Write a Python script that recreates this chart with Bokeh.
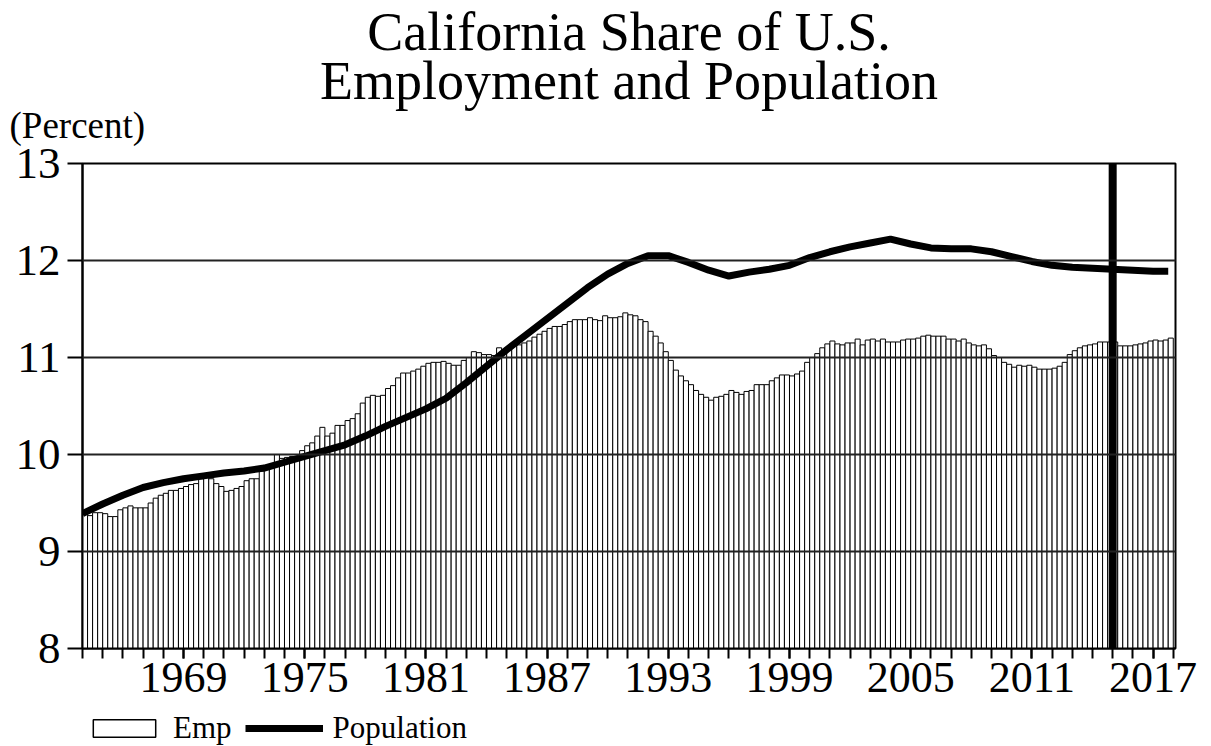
import numpy as np
from bokeh.plotting import figure
from bokeh.layouts import column
from bokeh.models import (ColumnDataSource, FixedTicker, Legend, LegendItem,
                          Title, Span, Range1d)
from bokeh.embed import file_html
from bokeh.resources import INLINE

# ---------------- data ----------------
first_year = 1964
# California share of U.S. employment, quarterly 1964Q1 .. 2017Q4 (percent)
emp_share = [
    9.39, 9.37, 9.40, 9.40,    # 1964
    9.39, 9.36, 9.36, 9.43,    # 1965
    9.45, 9.47, 9.45, 9.45,    # 1966
    9.45, 9.50, 9.55, 9.58,    # 1967
    9.60, 9.63, 9.63, 9.65,    # 1968
    9.67, 9.69, 9.70, 9.75,    # 1969
    9.77, 9.75, 9.70, 9.67,    # 1970
    9.62, 9.63, 9.65, 9.67,    # 1971
    9.73, 9.75, 9.75, 9.83,    # 1972
    9.85, 9.87, 10.00, 9.96,   # 1973
    9.97, 9.98, 9.98, 10.04,   # 1974
    10.09, 10.12, 10.19, 10.28,  # 1975
    10.19, 10.22, 10.30, 10.30,  # 1976
    10.35, 10.37, 10.42, 10.53,  # 1977
    10.59, 10.61, 10.60, 10.61,  # 1978
    10.68, 10.71, 10.79, 10.84,  # 1979
    10.84, 10.86, 10.88, 10.91,  # 1980
    10.94, 10.95, 10.95, 10.96,  # 1981
    10.94, 10.92, 10.92, 10.97,  # 1982
    11.00, 11.06, 11.05, 11.03,  # 1983
    11.03, 11.02, 11.10, 11.08,  # 1984
    11.08, 11.12, 11.13, 11.15,  # 1985
    11.17, 11.21, 11.24, 11.27,  # 1986
    11.30, 11.32, 11.32, 11.34,  # 1987
    11.37, 11.39, 11.39, 11.39,  # 1988
    11.41, 11.39, 11.38, 11.43,  # 1989
    11.41, 11.41, 11.42, 11.46,  # 1990
    11.44, 11.43, 11.39, 11.37,  # 1991
    11.27, 11.22, 11.15, 11.06,  # 1992
    10.97, 10.87, 10.81, 10.76,  # 1993
    10.72, 10.66, 10.62, 10.59,  # 1994
    10.56, 10.59, 10.60, 10.62,  # 1995
    10.66, 10.64, 10.62, 10.65,  # 1996
    10.66, 10.72, 10.72, 10.72,  # 1997
    10.76, 10.79, 10.82, 10.82,  # 1998
    10.81, 10.83, 10.86, 10.95,  # 1999
    11.00, 11.04, 11.10, 11.14,  # 2000
    11.17, 11.14, 11.13, 11.15,  # 2001
    11.15, 11.19, 11.13, 11.18,  # 2002
    11.19, 11.17, 11.19, 11.16,  # 2003
    11.16, 11.16, 11.18, 11.19,  # 2004
    11.19, 11.20, 11.22, 11.23,  # 2005
    11.22, 11.22, 11.22, 11.19,  # 2006
    11.19, 11.17, 11.19, 11.15,  # 2007
    11.13, 11.12, 11.13, 11.09,  # 2008
    11.02, 11.00, 10.95, 10.93,  # 2009
    10.90, 10.92, 10.91, 10.92,  # 2010
    10.90, 10.88, 10.88, 10.88,  # 2011
    10.89, 10.91, 10.95, 11.03,  # 2012
    11.07, 11.10, 11.12, 11.13,  # 2013
    11.14, 11.16, 11.16, 11.16,  # 2014
    11.16, 11.12, 11.12, 11.12,  # 2015
    11.13, 11.14, 11.15, 11.17,  # 2016
    11.18, 11.17, 11.18, 11.20,  # 2017
]

# California share of U.S. population (percent)
pop_dates = list(range(1964, 2018)) + [2017.75]
pop_share = [
    9.39, 9.49, 9.58, 9.66, 9.71, 9.75, 9.78, 9.81, 9.83, 9.86,        # 1964-73
    9.92, 9.98, 10.04, 10.10, 10.19, 10.29, 10.38, 10.47, 10.58, 10.74,  # 1974-83
    10.91, 11.08, 11.24, 11.40, 11.56, 11.72, 11.86, 11.97, 12.05, 12.05,  # 1984-93
    11.98, 11.90, 11.84, 11.88, 11.91, 11.95, 12.03, 12.09, 12.14, 12.18,  # 1994-03
    12.22, 12.17, 12.13, 12.12, 12.12, 12.09, 12.04, 11.99, 11.95, 11.93,  # 2004-13
    11.92, 11.91, 11.90, 11.89, 11.89,                                    # 2014-17.75
]

forecast_start = 2015.0
y_ticks = [8, 9, 10, 11, 12, 13]
x_label_years = [1969, 1975, 1981, 1987, 1993, 1999, 2005, 2011, 2017]
year_ticks = list(range(1964, 2019))

title_lines = ["California Share of U.S.", "Employment and Population"]
unit_label = "(Percent)"
legend_labels = ["Emp", "Population"]

# ---------------- layout constants ----------------
FONT = "Liberation Serif"
W = 1205
MAIN_H = 711
LEG_H = 35
X_RANGE = (1964, 2018.11)

# ---------------- main chart ----------------
n = len(emp_share)
quarter_x = first_year + np.arange(n) * 0.25 + 0.125
emp_src = ColumnDataSource(dict(x=quarter_x, top=emp_share))
pop_src = ColumnDataSource(dict(x=pop_dates, y=pop_share))

p = figure(width=W, height=MAIN_H,
           x_range=Range1d(*X_RANGE), y_range=Range1d(8, 13),
           output_backend="svg", toolbar_location=None,
           min_border_left=82, min_border_right=W - 1175,
           min_border_top=162, min_border_bottom=63)
p.background_fill_color = "white"
p.border_fill_color = "white"
p.outline_line_color = "black"
p.outline_line_width = 2

bars = p.vbar(x="x", top="top", bottom=0, width=0.25, source=emp_src,
              fill_color="white", line_color="black", line_width=1)
pop_line = p.line(x="x", y="y", source=pop_src, line_color="black",
                  line_width=7)
p.add_layout(Span(location=forecast_start, dimension="height",
                  line_color="black", line_width=8))

p.xgrid.visible = False
p.ygrid.ticker = FixedTicker(ticks=y_ticks)
p.ygrid.grid_line_color = "#222222"
p.ygrid.grid_line_width = 2
p.ygrid.level = "overlay"

p.yaxis.ticker = FixedTicker(ticks=y_ticks)
p.yaxis.major_tick_out = 15
p.yaxis.major_tick_in = 0
p.yaxis.minor_tick_out = 0
p.yaxis.minor_tick_in = 0
p.yaxis.major_tick_line_width = 2
p.yaxis.axis_line_width = 2
p.yaxis.major_label_text_font = FONT
p.yaxis.major_label_text_font_size = "45px"
p.yaxis.major_label_text_color = "black"
p.yaxis.major_label_standoff = 7

p.xaxis.ticker = FixedTicker(ticks=x_label_years, minor_ticks=year_ticks)
p.xaxis.major_tick_out = 10
p.xaxis.major_tick_in = 0
p.xaxis.minor_tick_out = 10
p.xaxis.minor_tick_in = 0
p.xaxis.major_tick_line_width = 2
p.xaxis.minor_tick_line_width = 2
p.xaxis.axis_line_width = 2
p.xaxis.major_label_text_font = FONT
p.xaxis.major_label_text_font_size = "44px"
p.xaxis.major_label_text_color = "black"
p.xaxis.major_label_standoff = 4

# titles: first added = closest to the frame (a thin spacer first)
p.add_layout(Title(text=" ", standoff=1.9, text_font=FONT,
                   text_font_size="10px"), "above")
p.add_layout(Title(text=unit_label, align="left", offset=-73, standoff=6,
                   text_font=FONT, text_font_size="37px",
                   text_font_style="normal", text_color="black"), "above")
p.add_layout(Title(text=title_lines[1], align="center", standoff=-23.4,
                   text_font=FONT, text_font_size="54px",
                   text_font_style="normal", text_color="black"), "above")
p.add_layout(Title(text=title_lines[0], align="center", standoff=-2.2,
                   text_font=FONT, text_font_size="54px",
                   text_font_style="normal", text_color="black"), "above")

# ---------------- legend strip (key glyphs only, nothing plotted) ----------------
leg = figure(width=W, height=LEG_H, x_range=Range1d(*X_RANGE),
             y_range=Range1d(0, 1),
             output_backend="svg", toolbar_location=None,
             x_axis_type=None, y_axis_type=None, min_border=0)
leg.outline_line_color = None
leg.grid.visible = False
key_src = ColumnDataSource(dict(x=[np.nan], top=[np.nan], y=[np.nan]))
key_bar = leg.vbar(x="x", top="top", bottom=0, width=0.25, source=key_src,
                   fill_color="white", line_color="black", line_width=1.5)
key_line = leg.line(x="x", y="y", source=key_src, line_color="black",
                    line_width=7)
legend = Legend(items=[LegendItem(label=legend_labels[0], renderers=[key_bar]),
                       LegendItem(label=legend_labels[1], renderers=[key_line])],
                orientation="horizontal", location=(3, 0),
                glyph_width=78, glyph_height=22, label_standoff=10,
                spacing=13, padding=0, margin=0,
                label_text_font=FONT, label_text_font_size="31px",
                label_text_color="black",
                border_line_alpha=0, background_fill_alpha=0)
leg.add_layout(legend, "center")

layout = column(p, leg, spacing=0)
open("out.html", "w").write(file_html(layout, INLINE))
